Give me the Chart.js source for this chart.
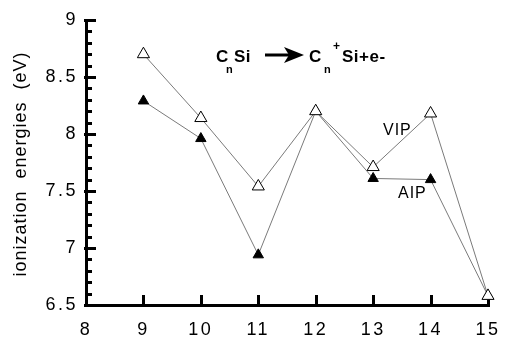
<!DOCTYPE html>
<html>
<head>
<meta charset="utf-8">
<script src="https://cdn.jsdelivr.net/npm/chart.js@4.4.1/dist/chart.umd.min.js"></script>
<style>
  body { margin: 0; background: #fff; }
  #wrap { width: 505px; height: 338px; }
</style>
</head>
<body>
<div id="wrap"><canvas id="ipChart" width="505" height="338"></canvas></div>
<script>
// cluster size n of CnSi
const sizes = [9, 10, 11, 12, 13, 14, 15];
// vertical ionization potentials (open triangles)
const vipValues = [8.70, 8.14, 7.54, 8.20, 7.71, 8.18, 6.58];
// adiabatic ionization potentials (filled triangles)
const aipValues = [8.29, 7.96, 6.94, 8.20, 7.61, 7.60, 6.58];
const yTicks = [6.5, 7, 7.5, 8, 8.5, 9];
const xTicks = [8, 9, 10, 11, 12, 13, 14, 15];

const FONT = 'Liberation Sans, Arial, Helvetica, sans-serif';

// letter spacing for tick labels, reset before datasets
const spacingPlugin = {
    id: 'spacing',
    beforeDraw: function (chart) { chart.ctx.letterSpacing = '2.5px'; },
    beforeDatasetsDraw: function (chart) { chart.ctx.letterSpacing = '0px'; }
};

// thick inside ticks like the original plot
const ticksPlugin = {
    id: 'axisTicks',
    beforeDatasetsDraw: function (chart) {
        const ctx = chart.ctx;
        const xs = chart.scales.x, ys = chart.scales.y;
        const ax = chart.chartArea.left, ay = chart.chartArea.bottom;
        ctx.save();
        ctx.strokeStyle = '#000';
        ctx.lineWidth = 3;
        ctx.beginPath();
        for (let i = 0; i <= 25; i++) {
            const py = Math.round(ys.getPixelForValue(6.5 + i * 0.1)) + 0.5;
            if (i % 5 === 0) { ctx.moveTo(ax - 2, py); ctx.lineTo(ax + 10, py); }
            else { ctx.moveTo(ax, py); ctx.lineTo(ax + 6, py); }
        }
        xTicks.forEach(function (v) {
            const px = Math.round(xs.getPixelForValue(v)) + 0.5;
            ctx.moveTo(px, ay + 2);
            ctx.lineTo(px, ay - 10);
        });
        ctx.stroke();
        ctx.restore();
    }
};

// reaction title, series labels and y axis title
const textPlugin = {
    id: 'texts',
    afterDraw: function (chart) {
        const ctx = chart.ctx;
        ctx.save();
        ctx.fillStyle = '#000';
        ctx.textBaseline = 'alphabetic';
        ctx.textAlign = 'left';
        ctx.letterSpacing = '0.5px';
        ctx.font = 'bold 17px ' + FONT;
        ctx.fillText('C', 216, 62);
        ctx.fillText('Si', 234, 62);
        ctx.fillText('C', 309, 62);
        ctx.fillText('Si+e-', 342, 62);
        ctx.font = 'bold 11px ' + FONT;
        ctx.fillText('n', 226, 73);
        ctx.fillText('n', 324, 73);
        ctx.font = 'bold 12px ' + FONT;
        ctx.fillText('+', 333, 50);
        // arrow
        ctx.lineWidth = 3;
        ctx.strokeStyle = '#000';
        ctx.beginPath();
        ctx.moveTo(265, 55);
        ctx.lineTo(292, 55);
        ctx.stroke();
        ctx.beginPath();
        ctx.moveTo(304, 55);
        ctx.lineTo(284, 47);
        ctx.lineTo(289, 55);
        ctx.lineTo(284, 63);
        ctx.closePath();
        ctx.fill();

        ctx.letterSpacing = '1px';
        ctx.font = '16px ' + FONT;
        ctx.fillText('VIP', 383, 135);
        ctx.fillText('AIP', 398, 198);

        ctx.letterSpacing = '1px';
        ctx.font = '18px ' + FONT;
        ctx.translate(21, 164);
        ctx.rotate(-Math.PI / 2);
        ctx.textAlign = 'center';
        ctx.textBaseline = 'middle';
        ctx.fillText('ionization  energies  (eV)', 0, 0);
        ctx.restore();
    }
};

const ctxChart = document.getElementById('ipChart').getContext('2d');

new Chart(ctxChart, {
    type: 'line',
    data: {
        datasets: [{
            label: 'VIP',
            data: sizes.map(function (n, i) { return { x: n, y: vipValues[i] }; }),
            borderColor: '#7a7a7a',
            borderWidth: 1,
            pointStyle: 'triangle',
            pointRadius: 7,
            pointBackgroundColor: '#fff',
            pointBorderColor: '#000',
            pointBorderWidth: 1,
            tension: 0,
            clip: false,
            fill: false
        }, {
            label: 'AIP',
            data: sizes.map(function (n, i) { return { x: n, y: aipValues[i] }; }),
            borderColor: '#7a7a7a',
            borderWidth: 1,
            pointStyle: 'triangle',
            pointRadius: 6,
            pointBackgroundColor: '#000',
            pointBorderColor: '#000',
            pointBorderWidth: 1,
            tension: 0,
            clip: false,
            fill: false
        }]
    },
    options: {
        responsive: false,
        animation: false,
        layout: { padding: { top: 20, right: 17, left: 0, bottom: 0 } },
        scales: {
            x: {
                type: 'linear',
                min: 8,
                max: 15,
                afterFit: function (scale) {
                    scale.height = 33;
                    scale.paddingLeft = 0;
                    scale.paddingRight = 0;
                },
                afterBuildTicks: function (scale) { scale.ticks = xTicks.map(function (v) { return { value: v }; }); },
                grid: { drawOnChartArea: false, drawTicks: false },
                border: { display: true, color: '#000', width: 3 },
                ticks: { color: '#000', padding: 14, maxRotation: 0, font: { family: FONT, size: 18 } }
            },
            y: {
                type: 'linear',
                min: 6.5,
                max: 9,
                afterFit: function (scale) {
                    scale.width = 86;
                    scale.paddingTop = 0;
                    scale.paddingBottom = 0;
                },
                afterBuildTicks: function (scale) { scale.ticks = yTicks.map(function (v) { return { value: v }; }); },
                grid: { drawOnChartArea: false, drawTicks: false },
                border: { display: true, color: '#000', width: 3 },
                ticks: {
                    color: '#000',
                    padding: 8,
                    font: { family: FONT, size: 18 },
                    callback: function (value) { return String(value); }
                }
            }
        },
        plugins: {
            legend: { display: false },
            tooltip: { enabled: false }
        }
    },
    plugins: [spacingPlugin, ticksPlugin, textPlugin]
});
</script>
</body>
</html>
